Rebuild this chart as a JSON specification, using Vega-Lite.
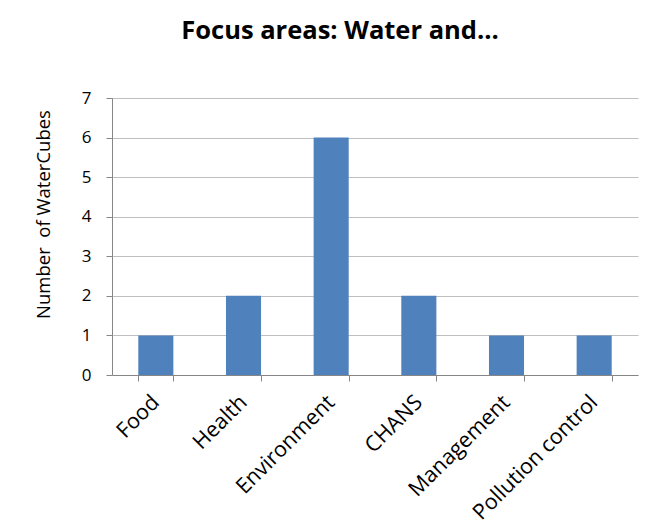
{
  "$schema": "https://vega.github.io/schema/vega-lite/v6.json",
  "autosize": {"type": "none"},
  "padding": {"left": 112, "top": 98, "right": 30, "bottom": 156},
  "width": 526,
  "height": 277,
  "background": "white",
  "title": {
    "text": "Focus areas: Water and...",
    "font": "Open Sans",
    "fontSize": 25.5,
    "fontWeight": "bold",
    "color": "black",
    "anchor": "middle",
    "dx": -35,
    "offset": 45
  },
  "data": {
    "values": [
      {"area": "Food", "count": 1},
      {"area": "Health", "count": 2},
      {"area": "Environment", "count": 6},
      {"area": "CHANS", "count": 2},
      {"area": "Management", "count": 1},
      {"area": "Pollution control", "count": 1}
    ]
  },
  "mark": {"type": "bar", "color": "#4F81BD"},
  "encoding": {
    "x": {
      "field": "area",
      "type": "nominal",
      "sort": null,
      "scale": {"paddingInner": 0.6, "paddingOuter": 0.3},
      "axis": {
        "title": null,
        "labelAngle": -45,
        "labelAlign": "right",
        "labelBaseline": "middle",
        "labelFont": "Open Sans",
        "labelFontSize": 21.5,
        "labelColor": "black",
        "labelPadding": 18,
        "labelOverlap": false,
        "labelLimit": 400,
        "domainColor": "#868686",
        "tickColor": "#868686",
        "tickSize": 6,
        "tickBand": "extent",
        "grid": false
      }
    },
    "y": {
      "field": "count",
      "type": "quantitative",
      "scale": {"domain": [0, 7], "nice": false},
      "axis": {
        "title": "Number\u00a0 of WaterCubes",
        "titleFont": "Open Sans",
        "titleFontSize": 18.5,
        "titleFontWeight": "normal",
        "titleColor": "black",
        "titleX": -69,
        "titleY": 116,
        "titleAngle": -90,
        "titleAlign": "center",
        "titleBaseline": "middle",
        "values": [0, 1, 2, 3, 4, 5, 6, 7],
        "labelOverlap": false,
        "labelFont": "Open Sans",
        "labelFontSize": 17,
        "labelColor": "black",
        "labelPadding": 15,
        "domainColor": "#868686",
        "tickColor": "#868686",
        "tickSize": 6,
        "gridColor": "#BFBFBF",
        "gridWidth": 1.2
      }
    }
  },
  "config": {"view": {"stroke": null}}
}
